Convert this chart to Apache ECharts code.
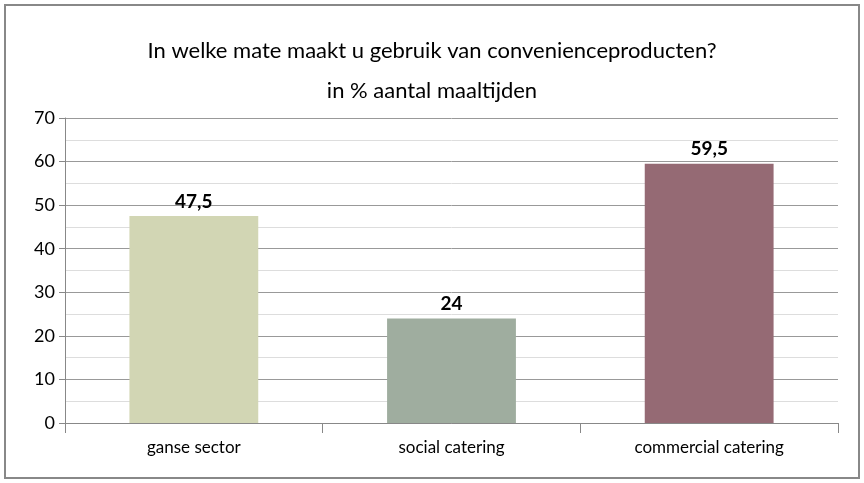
<!DOCTYPE html>
<html>
<head>
<meta charset="utf-8">
<script src="https://cdn.jsdelivr.net/npm/echarts@6.0.0/dist/echarts.min.js"></script>
<style>
  html, body { margin: 0; padding: 0; background: #fff; }
  #frame { position: absolute; left: 4px; top: 4px; width: 852px; height: 471px; border: 2px solid #888; }
  #chart { position: absolute; left: 0; top: 0; width: 864px; height: 483px; }
</style>
</head>
<body>
<div id="frame"></div>
<div id="chart"></div>
<script>
// data
const categories = ['ganse sector', 'social catering', 'commercial catering'];
const values = [47.5, 24, 59.5];
const barColors = ['#d2d6b4', '#9fad9f', '#956a74'];
const yTicks = [0, 10, 20, 30, 40, 50, 60, 70];

const chart = echarts.init(document.getElementById('chart'));
const font = 'Lato, "Open Sans", sans-serif';

chart.setOption({
    animation: false,
    title: {
        text: 'In welke mate maakt u gebruik van convenienceproducten?\nin % aantal maaltijden',
        left: 'center',
        top: 26,
        textStyle: { fontFamily: font, fontWeight: 'normal', fontSize: 22, color: '#000', lineHeight: 40 }
    },
    grid: { left: 65, right: 26, top: 118, bottom: 60 },
    xAxis: {
        type: 'category',
        data: categories,
        axisLine: { lineStyle: { color: '#888' } },
        axisTick: { show: true, length: 10, lineStyle: { color: '#888' } },
        axisLabel: { fontFamily: font, fontSize: 17, color: '#000', margin: 16 }
    },
    yAxis: {
        type: 'value',
        min: yTicks[0],
        max: yTicks[yTicks.length - 1],
        interval: 10,
        axisLine: { show: true, lineStyle: { color: '#888' } },
        axisTick: { show: true, length: 6, lineStyle: { color: '#888' } },
        axisLabel: { fontFamily: font, fontSize: 18, color: '#000', margin: 10 },
        splitLine: { lineStyle: { color: '#999' } },
        minorTick: { show: false, splitNumber: 2 },
        minorSplitLine: { show: true, lineStyle: { color: '#ddd' } }
    },
    series: [{
        type: 'bar',
        barWidth: '50%',
        data: values.map((v, i) => ({ value: v, itemStyle: { color: barColors[i] } })),
        label: {
            show: true,
            position: 'top',
            fontFamily: font,
            fontWeight: 'bold',
            fontSize: 19,
            color: '#000',
            formatter: p => String(p.value).replace('.', ',')
        }
    }]
});
</script>
</body>
</html>
